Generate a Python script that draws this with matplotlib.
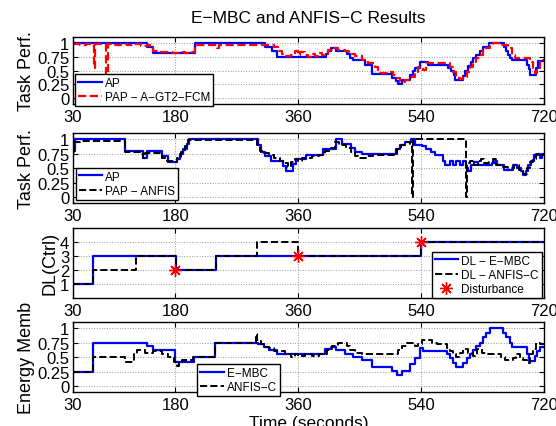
import matplotlib
matplotlib.use("Agg")
import matplotlib.pyplot as plt

plt.rcParams["font.family"] = ["Liberation Sans", "DejaVu Sans"]

# ---- data ----
x_ticks = [30, 180, 360, 540, 720]
perf_ticks = [0, 0.25, 0.5, 0.75, 1]
perf_ticklabels = ["0", "0.25", "0.5", "0.75", "1"]
dl_ticks = [1, 2, 3, 4]

# panel 1: AP vs PAP - A-GT2-FCM
ap1_t = [30, 138, 148, 209, 312, 322, 329, 401, 404, 408, 415, 431, 436, 441, 458, 468,
         497, 503, 507, 513, 524, 528, 531, 538, 551, 580, 584, 588, 590, 602, 605, 609,
         613, 617, 621, 626, 631, 640, 662, 665, 668, 671, 674, 695, 698, 700, 708, 711, 720]
ap1_v = [1.0, 0.93, 0.82, 1.0, 0.92, 0.85, 0.75, 0.8, 0.85, 0.9, 0.85, 0.8, 0.72, 0.68, 0.6, 0.43,
         0.37, 0.32, 0.25, 0.33, 0.42, 0.5, 0.55, 0.65, 0.6, 0.55, 0.5, 0.42, 0.33, 0.4, 0.5, 0.58,
         0.65, 0.72, 0.78, 0.85, 0.92, 1.0, 0.92, 0.85, 0.78, 0.72, 0.68, 0.6, 0.52, 0.42, 0.55, 0.67, 0.67]

pap1_t = [30, 40, 50, 60, 61, 63, 70, 79, 81, 90, 100, 110, 120, 130, 138, 143, 148, 158, 165,
          175, 185, 195, 203, 209, 225, 238, 241, 244, 260, 280, 300, 313, 320, 325,
          331, 336, 340, 350, 356, 360, 363, 370, 375, 380, 385, 390, 395, 399, 404, 409, 419,
          429, 434, 443, 453, 458, 463, 472, 477, 490, 499, 504, 509, 516, 524, 531, 536, 543,
          548, 582, 587, 592, 597, 602, 607, 612, 617, 621, 626, 631, 636, 641, 646, 658, 663,
          668, 673, 678, 700, 704, 707, 710, 714, 719, 720]
pap1_v = [0.98, 0.96, 0.98, 0.97, 0.55, 0.97, 0.98, 0.0, 0.97, 0.96, 0.98, 0.95, 0.97, 0.94, 0.96, 0.9, 0.85, 0.83, 0.84,
          0.82, 0.84, 0.82, 0.83, 0.96, 0.95, 0.96, 0.9, 0.96, 0.95, 0.96, 0.95, 0.96, 0.95, 0.92,
          0.85, 0.8, 0.76, 0.77, 0.85, 0.78, 0.84, 0.78, 0.75, 0.8, 0.76, 0.81, 0.78, 0.8, 0.86, 0.9, 0.86,
          0.85, 0.8, 0.76, 0.68, 0.66, 0.63, 0.57, 0.45, 0.47, 0.42, 0.36, 0.3, 0.33, 0.39, 0.48, 0.57, 0.51,
          0.63, 0.57, 0.48, 0.36, 0.35, 0.39, 0.48, 0.57, 0.66, 0.72, 0.78, 0.86, 0.9, 0.96, 0.99, 0.96, 0.96,
          0.9, 0.78, 0.72, 0.66, 0.54, 0.45, 0.54, 0.66, 0.69, 0.69]

# panel 2: AP vs PAP - ANFIS
ap2_t = [30, 33, 107, 133, 138, 160, 170, 182, 187, 192, 197, 200, 301, 306, 311, 321, 338, 343,
         353, 357, 372, 397, 415, 424, 438, 443, 453, 504, 509, 517, 526, 531, 541, 548, 555, 561,
         573, 575, 582, 587, 592, 597, 602, 606, 609, 613, 618, 623, 644, 648, 652, 662, 675, 681,
         686, 690, 694, 697, 702, 706, 711, 714, 717, 720]
ap2_v = [0.8, 1.0, 0.79, 0.68, 0.79, 0.71, 0.6, 0.65, 0.74, 0.83, 0.92, 1.0, 0.89, 0.77, 0.71, 0.62, 0.54, 0.45,
         0.57, 0.65, 0.72, 0.82, 1.0, 0.92, 0.85, 0.78, 0.75, 0.82, 0.9, 0.95, 1.0, 0.9, 0.88, 0.82, 0.78, 0.72,
         0.62, 0.55, 0.62, 0.55, 0.62, 0.55, 0.62, 0.5, 0.45, 0.55, 0.6, 0.55, 0.58, 0.62, 0.55, 0.47, 0.55, 0.5,
         0.45, 0.38, 0.45, 0.55, 0.62, 0.72, 0.75, 0.68, 0.75, 0.75]

pap2_t = [30, 32, 40, 107, 130, 133, 136, 158, 161, 168, 180, 183, 188, 194, 199, 300, 304, 310,
          318, 325, 333, 340, 345, 350, 355, 360, 366, 380, 390, 400, 408, 414, 420, 430, 437, 443,
          448, 460, 470, 500, 505, 511, 518, 524, 527, 529, 606, 607, 612, 618, 624, 628, 632, 640,
          646, 650, 660, 668, 676, 684, 690, 695, 700, 704, 709, 714, 720]
pap2_v = [0.78, 0.95, 0.96, 0.78, 0.74, 0.68, 0.76, 0.74, 0.68, 0.62, 0.6, 0.68, 0.78, 0.88, 0.98, 0.9, 0.8, 0.76,
          0.72, 0.68, 0.62, 0.58, 0.52, 0.6, 0.65, 0.62, 0.68, 0.7, 0.72, 0.8, 0.85, 0.95, 0.9, 0.85, 0.78, 0.7,
          0.68, 0.7, 0.72, 0.75, 0.82, 0.9, 0.95, 0.92, 0.0, 1.0, 0.0, 0.58, 0.62, 0.56, 0.62, 0.66, 0.58, 0.6,
          0.66, 0.56, 0.52, 0.5, 0.55, 0.46, 0.4, 0.5, 0.6, 0.66, 0.75, 0.72, 0.75]

# panel 3: difficulty level
dl_embc_t = [30, 60, 181, 240, 540, 720]
dl_embc_v = [1, 3, 2, 3, 4, 4]
dl_anfis_t = [30, 60, 122, 181, 240, 300, 360, 540, 720]
dl_anfis_v = [1, 2, 3, 2, 3, 4, 3, 4, 4]
dist_t = [180, 360, 540]
dist_v = [2, 3, 4]

# panel 4: energy membership
em_embc_t = [30, 60, 138, 148, 180, 207, 238, 301, 310, 318, 329, 400, 408, 415, 429, 441, 453,
             468, 497, 505, 512, 524, 531, 538, 543, 578, 583, 587, 592, 602, 607, 612, 617, 621,
             626, 631, 636, 641, 661, 665, 670, 673, 695, 698, 707, 710, 714, 720]
em_embc_v = [0.25, 0.75, 0.7, 0.62, 0.42, 0.5, 0.75, 0.72, 0.68, 0.62, 0.56, 0.64, 0.68, 0.62, 0.56, 0.5, 0.46,
             0.33, 0.27, 0.19, 0.27, 0.39, 0.49, 0.66, 0.6, 0.55, 0.49, 0.4, 0.34, 0.4, 0.49, 0.55, 0.62, 0.7,
             0.75, 0.84, 0.92, 1.0, 0.92, 0.84, 0.75, 0.67, 0.55, 0.43, 0.52, 0.6, 0.68, 0.68]

em_anfis_t = [30, 60, 107, 120, 124, 136, 148, 160, 170, 178, 182, 186, 190, 206, 238, 298, 300,
              305, 312, 318, 325, 341, 350, 355, 360, 370, 380, 390, 402, 409, 419, 431, 436, 443,
              453, 507, 512, 519, 531, 536, 541, 556, 563, 578, 582, 587, 592, 597, 602, 609, 617,
              622, 629, 636, 658, 663, 675, 680, 685, 690, 695, 700, 704, 709, 714, 720]
em_anfis_v = [0.25, 0.5, 0.42, 0.55, 0.62, 0.58, 0.6, 0.55, 0.5, 0.42, 0.35, 0.42, 0.45, 0.5, 0.75, 0.9, 0.8,
              0.72, 0.68, 0.65, 0.6, 0.55, 0.5, 0.55, 0.52, 0.55, 0.52, 0.55, 0.62, 0.7, 0.75, 0.7, 0.62, 0.58,
              0.55, 0.62, 0.7, 0.75, 0.7, 0.72, 0.8, 0.75, 0.72, 0.66, 0.6, 0.55, 0.5, 0.58, 0.64, 0.58, 0.52,
              0.64, 0.58, 0.55, 0.51, 0.46, 0.49, 0.55, 0.49, 0.46, 0.4, 0.55, 0.64, 0.75, 0.72, 0.72]

# ---- figure ----
fig = plt.figure(figsize=(5.56, 4.27), dpi=100)

L, W = 0.131, 0.847
ax1 = fig.add_axes([L, 0.754, W, 0.157])
ax2 = fig.add_axes([L, 0.522, W, 0.164])
ax3 = fig.add_axes([L, 0.300, W, 0.164])
ax4 = fig.add_axes([L, 0.079, W, 0.164])

BLUE, RED = (0, 0, 1), (1, 0, 0)
TICK_FS, LBL_FS, LEG_FS = 12, 13, 8.5


def style(ax, yticks, ylabels, ylim):
    ax.set_xlim(30, 720)
    ax.set_xticks(x_ticks)
    ax.set_ylim(*ylim)
    ax.set_yticks(yticks)
    ax.set_yticklabels(ylabels)
    ax.tick_params(direction="in", top=True, right=True, length=3.5, width=0.8,
                   labelsize=TICK_FS)
    ax.tick_params(axis="x", pad=3.5)
    ax.tick_params(axis="y", pad=2.5)
    ax.grid(True, linestyle=":", color="0.6", lw=0.7)
    for s in ax.spines.values():
        s.set_linewidth(1.0)


def legend(ax, anchor):
    leg = ax.legend(loc="upper left", bbox_to_anchor=anchor, borderaxespad=0,
                    fontsize=LEG_FS, fancybox=False, framealpha=1, edgecolor="black",
                    handlelength=2.0, handletextpad=0.25, borderpad=0.25, labelspacing=0.2)
    leg.get_frame().set_linewidth(1.0)
    return leg


ax1.step(ap1_t, ap1_v, where="post", color=BLUE, lw=1.6, label="AP")
ax1.step(pap1_t, pap1_v, where="post", color=RED, lw=1.6, ls="--",
         label="PAP \u2212 A\u2212GT2\u2212FCM")
style(ax1, perf_ticks, perf_ticklabels, (-0.1, 1.1))
ax1.set_ylabel("Task Perf.", fontsize=LBL_FS)
ax1.yaxis.set_label_coords(-0.08, 0.5)
legend(ax1, (0.005, 0.45))
ax1.text(0.5, 1.0 + 19 / 67, "E\u2212MBC and ANFIS\u2212C Results", transform=ax1.transAxes,
         ha="center", va="center", fontsize=12.5)

ax2.step(ap2_t, ap2_v, where="post", color=BLUE, lw=1.6, label="AP")
ax2.step(pap2_t, pap2_v, where="post", color="black", lw=1.4, ls="--",
         label="PAP \u2212 ANFIS")
style(ax2, perf_ticks, perf_ticklabels, (-0.1, 1.1))
ax2.set_ylabel("Task Perf.", fontsize=LBL_FS)
ax2.yaxis.set_label_coords(-0.08, 0.5)
legend(ax2, (0.006, 0.507))

ax3.step(dl_embc_t, dl_embc_v, where="post", color=BLUE, lw=1.6, label="DL \u2212 E\u2212MBC")
ax3.step(dl_anfis_t, dl_anfis_v, where="post", color="black", lw=1.4, ls="--",
         label="DL \u2212 ANFIS\u2212C")
ax3.plot(dist_t, dist_v, ls="none", marker=(8, 2, 0), ms=9, mew=1.0, color=RED,
         label="Disturbance")
style(ax3, dl_ticks, [str(v) for v in dl_ticks], (0, 5))
ax3.set_ylabel("DL(Ctrl)", fontsize=LBL_FS)
ax3.yaxis.set_label_coords(-0.03, 0.5)
legend(ax3, (0.762, 0.661))

ax4.step(em_embc_t, em_embc_v, where="post", color=BLUE, lw=1.6, label="E\u2212MBC")
ax4.step(em_anfis_t, em_anfis_v, where="post", color="black", lw=1.4, ls="--",
         label="ANFIS\u2212C")
style(ax4, perf_ticks, perf_ticklabels, (-0.1, 1.1))
ax4.set_ylabel("Energy Memb", fontsize=LBL_FS)
ax4.yaxis.set_label_coords(-0.08, 0.5)
legend(ax4, (0.264, 0.403))

fig.text(L + W / 2, 1 - 416 / 427, "Time (seconds)", ha="center", va="top", fontsize=12.5)

fig.savefig("out.png", dpi=100)
